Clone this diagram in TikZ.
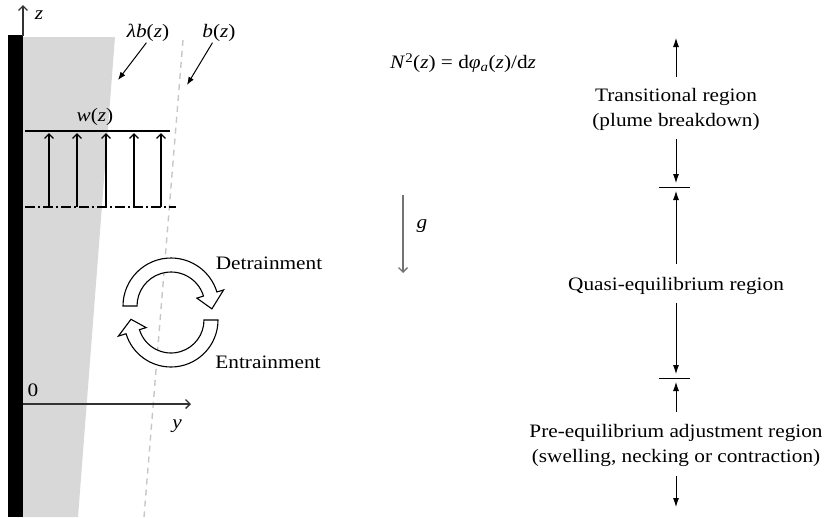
\documentclass[tikz,border=0pt]{standalone}
\usepackage{fontspec}
\setmainfont{Liberation Serif}[FakeStretch=1.12]
\usepackage{tikz}
\usetikzlibrary{arrows.meta}
\definecolor{plumegray}{RGB}{216, 216, 216}

\begin{document}
\begin{tikzpicture}[
  x=1pt, y=-1pt,
  every node/.style={font=\fontsize{19}{25}\selectfont, inner sep=0pt},
  region/.style={align=center},
  arr/.style={-{Latex[length=9pt,width=6pt]}, line width=0.8pt},
  pointer/.style={-{Latex[length=8pt,width=6pt]}, line width=1pt, shorten <=1pt},
  axisline/.style={-{Straight Barb[length=4.5pt,width=9pt]}, line width=1.3pt, draw=black!80},
  flow/.style={-{Straight Barb[length=4.5pt,width=9pt]}, line width=1.4pt},
  hollow/.style={draw=black, fill=white, line width=1.1pt},
  sepline/.style={line width=0.8pt}
]
  \useasboundingbox (0,0) rectangle (826,517);

  % Plume, edge and wall
  \fill[plumegray] (23,37) -- (115,37) -- (78,517) -- (23,517) -- cycle;
  \draw[black!22, line width=1.4pt, dash pattern=on 6pt off 5pt] (183,40) -- (144,517);
  \fill (8,35) rectangle (22.5,517);

  % Axes
  \coordinate (zbase) at (23,36);
  \coordinate (ztip) at (23,5);
  \coordinate (origin) at (23,404);
  \coordinate (ytip) at (191,404);
  \draw[axisline] (zbase) -- (ztip);
  \draw[axisline] (origin) -- (ytip);
  \node (zlab) at (39,15) {\textit{z}};
  \node (zero) at (33,390) {0};
  \node (ylab) at (177,426) {\textit{y}};

  % Widths
  \node (lamb) at (148,33) {\textit{λb}(\textit{z})};
  \node (blab) at (219,33) {\textit{b}(\textit{z})};
  \coordinate (lambtip) at (118,80);
  \coordinate (btip) at (187,85);
  \draw[pointer] ([xshift=-1pt]lamb.south) -- (lambtip);
  \draw[pointer] ([xshift=-6pt]blab.south) -- (btip);

  % Velocity profile
  \node (wlab) at (95,117) {\textit{w}(\textit{z})};
  \coordinate (wl) at (25,131);
  \coordinate (wr) at (170,131);
  \coordinate (dl) at (25,207);
  \coordinate (dr) at (176,207);
  \draw[line width=1.4pt] (wl) -- (wr);
  \draw[line width=1.4pt, dash pattern=on 10pt off 3pt on 2pt off 3pt] (dl) -- (dr);
  \foreach \x [count=\i] in {49,77,106,134,161} {
    \coordinate (wb\i) at (\x,207);
    \coordinate (wt\i) at (\x,133);
    \draw[flow] (wb\i) -- (wt\i);
  }

  % Detrainment / entrainment
  \begin{scope}[shift={(171,306)}]
    \draw[hollow] (180:34) -- (180:48) arc[start angle=180, end angle=343, radius=48]
      -- (343:55) -- (4:41) -- (343:27) -- (343:34)
      arc[start angle=343, end angle=180, radius=34] -- cycle;
  \end{scope}
  \begin{scope}[shift={(171,320)}]
    \draw[hollow] (0:33) -- (0:47) arc[start angle=0, end angle=163, radius=47]
      -- (163:55) -- (181:40) -- (163:26) -- (163:33)
      arc[start angle=163, end angle=0, radius=33] -- cycle;
  \end{scope}
  \node (detr) at (269,263) {Detrainment};
  \node (entr) at (268,362) {Entrainment};

  % Gravity and stratification
  \coordinate (gtop) at (403,195);
  \coordinate (gbot) at (403,273);
  \draw[axisline, draw=black!55] (gtop) -- (gbot);
  \node (glab) at (422,226) {\textit{g}};
  \node (buoy) at (463,63) {\textit{N}\textsuperscript{2}(\textit{z}) = d\textit{φ}\textsubscript{\textit{a}}(\textit{z})/d\textit{z}};

  % Regions (right column)
  \node[region] (trans) at (676,109) {Transitional region\\(plume breakdown)};
  \node[region] (quasi) at (676,286) {Quasi-equilibrium region};
  \node[region] (pre) at (676,445) {Pre-equilibrium adjustment region\\(swelling, necking or contraction)};
  \coordinate (top) at (676,38);
  \coordinate (sepA) at (676,187);
  \coordinate (sepB) at (676,378);
  \coordinate (bot) at (676,507);

  \draw[arr, shorten <=11pt] (trans) -- (top);
  \draw[arr, shorten <=9pt, shorten >=4pt] (trans) -- (sepA);
  \draw[sepline] ([xshift=-17pt]sepA) -- ([xshift=14pt]sepA);
  \draw[arr, shorten <=13pt, shorten >=4pt] (quasi) -- (sepA);
  \draw[arr, shorten <=8pt, shorten >=4pt] (quasi) -- (sepB);
  \draw[sepline] ([xshift=-17pt]sepB) -- ([xshift=14pt]sepB);
  \draw[arr, shorten <=12pt, shorten >=4pt] (pre) -- (sepB);
  \draw[arr, shorten <=10pt] (pre) -- (bot);
\end{tikzpicture}
\end{document}
